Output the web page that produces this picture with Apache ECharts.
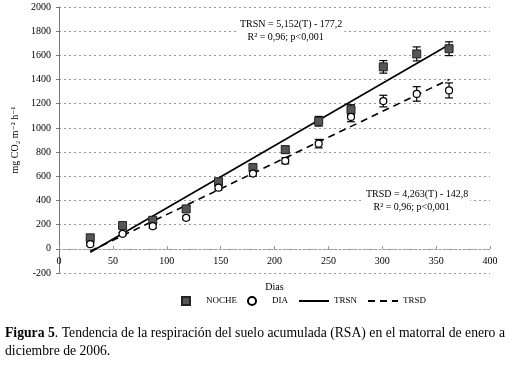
<!DOCTYPE html>
<html>
<head>
<meta charset="utf-8">
<script src="https://cdn.jsdelivr.net/npm/echarts@6/dist/echarts.min.js"></script>
<style>
    html, body { margin: 0; padding: 0; background: #fff; }
    #main { width: 518px; height: 365px; }
</style>
</head>
<body>
<div id="main"></div>
<script>
    // dias de medicion
    var dias = [29, 59, 87, 118, 148, 180, 210, 241, 271, 301, 332, 362];
    // RSA acumulada, noche y dia (mg CO2 m-2 h-1)
    var noche = [91, 193, 236, 330, 555, 672, 820, 1055, 1150, 1505, 1612, 1655];
    var dia = [38, 124, 187, 256, 506, 622, 728, 870, 1091, 1222, 1281, 1310];
    // error estandar
    var errNoche = [15, 15, 18, 20, 25, 28, 30, 40, 42, 52, 58, 57];
    var errDia = [12, 12, 15, 15, 20, 22, 25, 35, 40, 48, 60, 62];
    // extremos de las rectas de tendencia
    var trsnX = [29, 362];
    var trsnY = [-28, 1688];
    var trsdX = [29, 362];
    var trsdY = [-19, 1400];

    var serif = '"Liberation Serif", "DejaVu Serif", serif';

    function pairs(xs, ys) {
        return xs.map(function (x, i) { return [x, ys[i]]; });
    }
    function errData(xs, ys, es) {
        return xs.map(function (x, i) { return [x, ys[i], es[i]]; });
    }
    function errRender(params, api) {
        var x = api.value(0), y = api.value(1), e = api.value(2);
        var top = api.coord([x, y + e]);
        var bot = api.coord([x, y - e]);
        var w = 4;
        var st = { stroke: '#000', lineWidth: 1.2 };
        return {
            type: 'group',
            children: [
                { type: 'line', shape: { x1: top[0], y1: top[1], x2: bot[0], y2: bot[1] }, style: st },
                { type: 'line', shape: { x1: top[0] - w, y1: top[1], x2: top[0] + w, y2: top[1] }, style: st },
                { type: 'line', shape: { x1: bot[0] - w, y1: bot[1], x2: bot[0] + w, y2: bot[1] }, style: st }
            ]
        };
    }

    var chart = echarts.init(document.getElementById('main'));
    chart.setOption({
        backgroundColor: '#fff',
        animation: false,
        grid: { left: 59, right: 28, top: 7, bottom: 92 },
        xAxis: {
            type: 'value', min: 0, max: 400, interval: 50,
            position: 'bottom', offset: -24,
            name: 'Dias', nameLocation: 'middle', nameGap: 33,
            nameTextStyle: { fontFamily: serif, fontSize: 10, color: '#000' },
            axisLine: { onZero: false, lineStyle: { color: '#999', type: [2, 2] } },
            axisTick: { show: true, inside: true, length: 3, lineStyle: { color: '#999' } },
            axisLabel: { fontFamily: serif, fontSize: 10, color: '#000', margin: 7 },
            splitLine: { show: false }
        },
        yAxis: {
            type: 'value', min: -200, max: 2000, interval: 200,
            name: 'mg CO₂ m⁻² h⁻¹', nameLocation: 'middle', nameGap: 36,
            nameTextStyle: { fontFamily: serif, fontSize: 10, color: '#000' },
            axisLine: { show: true, lineStyle: { color: '#777', width: 1 } },
            axisTick: { show: true, length: 3, lineStyle: { color: '#777' } },
            axisLabel: {
                fontFamily: serif, fontSize: 10, color: '#000', margin: 8,
                formatter: function (v) { return String(v); }
            },
            splitLine: { show: true, lineStyle: { color: '#999', type: [2, 3], width: 1 } }
        },
        legend: {
            left: 176, top: 291, itemWidth: 30, itemHeight: 8, itemGap: 10,
            data: [
                { name: 'NOCHE' },
                { name: 'DIA' },
                { name: 'TRSN', itemStyle: { opacity: 0, borderWidth: 0 } },
                { name: 'TRSD', itemStyle: { opacity: 0, borderWidth: 0 } }
            ],
            textStyle: { fontFamily: serif, fontSize: 9, color: '#000' }
        },
        series: [
            {
                name: 'TRSN', type: 'line', data: pairs(trsnX, trsnY), symbol: 'none',
                lineStyle: { color: '#000', width: 1.6 }, itemStyle: { color: '#000' }, z: 2
            },
            {
                name: 'TRSD', type: 'line', data: pairs(trsdX, trsdY), symbol: 'none',
                lineStyle: { color: '#000', width: 1.6, type: [7, 5] }, itemStyle: { color: '#000' }, z: 2
            },
            {
                type: 'custom', renderItem: errRender, data: errData(dias, noche, errNoche), z: 3, silent: true
            },
            {
                type: 'custom', renderItem: errRender, data: errData(dias, dia, errDia), z: 3, silent: true
            },
            {
                name: 'NOCHE', type: 'scatter', data: pairs(dias, noche),
                symbol: 'path://M0,0H10V10H0Z', symbolKeepAspect: true, symbolSize: 8,
                itemStyle: { color: '#555', borderColor: '#222', borderWidth: 1, opacity: 1 }, z: 4
            },
            {
                name: 'DIA', type: 'scatter', data: pairs(dias, dia), symbol: 'circle', symbolSize: 7,
                itemStyle: { color: '#fff', borderColor: '#000', borderWidth: 1.2, opacity: 1 }, z: 4
            }
        ],
        graphic: [
            {
                type: 'text', left: 238, top: 18, z: 10,
                style: {
                    text: 'TRSN = 5,152(T) - 177,2\n   R² = 0,96; p<0,001',
                    font: '10px ' + serif, fill: '#000', lineHeight: 13,
                    backgroundColor: '#fff', padding: [0, 2]
                }
            },
            {
                type: 'text', left: 364, top: 188, z: 10,
                style: {
                    text: 'TRSD = 4,263(T) - 142,8\n   R² = 0,96; p<0,001',
                    font: '10px ' + serif, fill: '#000', lineHeight: 13,
                    backgroundColor: '#fff', padding: [0, 2]
                }
            },
            {
                type: 'text', left: 5, top: 324,
                style: {
                    text: '{b|Figura 5}. Tendencia de la respiración del suelo acumulada (RSA) en el matorral de enero a\ndiciembre de 2006.',
                    font: '13.7px ' + serif, fill: '#000', lineHeight: 18,
                    rich: {
                        b: { font: 'bold 13.7px ' + serif, fill: '#000' }
                    }
                }
            }
        ]
    });
</script>
</body>
</html>
